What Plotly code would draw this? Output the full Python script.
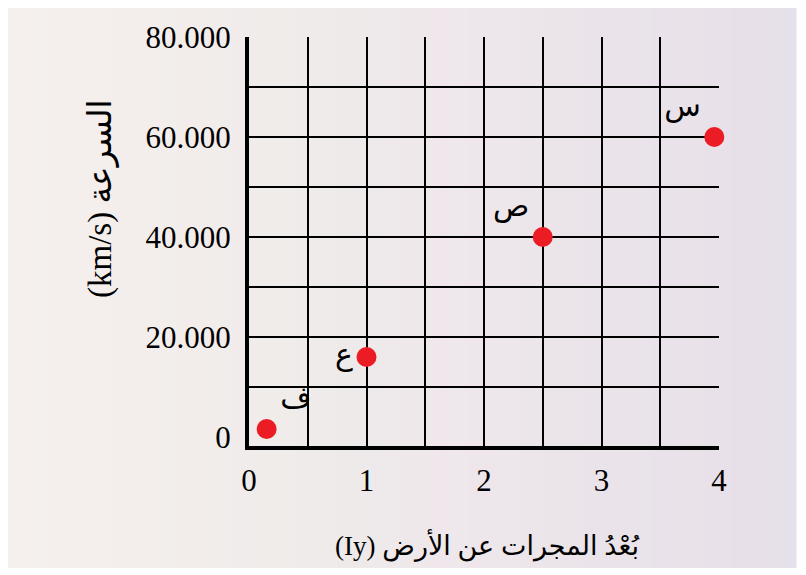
import plotly.graph_objects as go

# ---- data ----
X_DIST = [0.15, 1.0, 2.5, 3.96]          # distance (ly)
Y_SPEED = [1600, 16000, 40000, 60000]    # speed (km/s)
LABELS = ["ف", "ع", "ص", "س"]
LABEL_POS = ["top right", "middle left", "top left", "top left"]

X_TICKS = [0, 1, 2, 3, 4]
X_TICKTEXT = ["0", "1", "2", "3", "4"]
X_MARK_TICKS = [1, 2, 3, 4]
X_GRID = [0.5, 1, 1.5, 2, 2.5, 3, 3.5, 4]

Y_TICKS = [0, 20000, 40000, 60000, 80000]
Y_TICKTEXT = ["0", "20.000", "40.000", "60.000", "80.000"]
Y_MARK_TICKS = [20000, 40000, 60000, 80000]
Y_GRID = [10000, 20000, 30000, 40000, 50000, 60000, 70000, 80000]

X_TITLE = "(Iy) بُعْدُ المجرات عن الأرض"
Y_TITLE = "(km/s) السرعة"

FONT = "Liberation Serif, Times New Roman, DejaVu Serif, DejaVu Sans, serif"

# page offset of the figure (browser body margin)
OFF = 8
W, H = 806, 575
# target plot area in page pixels: x 249..719, y 37..446
ML = 249 - OFF
MT = 37 - OFF
PW = 719 - 249
PH = 446 - 37
MR = W - ML - PW
MB = H - MT - PH


def px_to_paper_x(px):
    return (px - OFF - ML) / PW


def px_to_paper_y(py):
    return (MT + PH - (py - OFF)) / PH


fig = go.Figure()

fig.add_trace(go.Scatter(
    x=X_DIST, y=Y_SPEED, mode="markers+text",
    text=LABELS, textposition=LABEL_POS,
    textfont=dict(family="DejaVu Sans, Noto Sans, serif", size=30, color="black"),
    marker=dict(size=20, color="#EC1C24", line=dict(width=0)),
    cliponaxis=False, showlegend=False, hoverinfo="skip",
))

# background gradient strips (page pixels)
bg_left, bg_right = 8, 796
bg_top, bg_bottom = 0, 568
stops = [
    (0.0, (245, 240, 237)),
    (0.25, (242, 237, 235)),
    (0.40, (238, 235, 234)),
    (0.55, (239, 231, 235)),
    (0.75, (234, 228, 234)),
    (0.95, (232, 224, 233)),
    (1.0, (229, 224, 234)),
]


def interp(t):
    for (t0, c0), (t1, c1) in zip(stops[:-1], stops[1:]):
        if t0 <= t <= t1:
            f = (t - t0) / (t1 - t0) if t1 > t0 else 0
            return tuple(round(a + (b - a) * f) for a, b in zip(c0, c1))
    return stops[-1][1]


N = 60
shapes = []
for i in range(N):
    xa = bg_left + (bg_right - bg_left) * i / N
    xb = bg_left + (bg_right - bg_left) * (i + 1) / N
    c = interp((i + 0.5) / N)
    shapes.append(dict(
        type="rect", xref="paper", yref="paper", layer="below",
        x0=px_to_paper_x(xa), x1=px_to_paper_x(xb + 0.6),
        y0=px_to_paper_y(bg_bottom), y1=px_to_paper_y(bg_top),
        fillcolor="rgb(%d,%d,%d)" % c, line=dict(width=0),
    ))

fig.update_layout(
    width=W, height=H,
    margin=dict(l=ML, r=MR, t=MT, b=MB, pad=0),
    paper_bgcolor="white",
    plot_bgcolor="rgba(0,0,0,0)",
    shapes=shapes,
    showlegend=False,
    font=dict(family=FONT, color="black"),
    xaxis=dict(
        range=[0, 4], tickvals=X_TICKS, ticktext=X_TICKTEXT,
        ticks="", ticklabelstandoff=4,
        tickfont=dict(family=FONT, size=31, color="black"),
        showgrid=False, zeroline=False,
        showline=True, linecolor="black", linewidth=4,
        minor=dict(tickvals=X_GRID, showgrid=True, gridcolor="black", gridwidth=2, ticks=""),
        fixedrange=True,
    ),
    yaxis=dict(
        range=[-1800, 80000], tickvals=Y_TICKS, ticktext=Y_TICKTEXT,
        ticks="", ticklabelstandoff=8,
        tickfont=dict(family=FONT, size=31, color="black"),
        showgrid=False, zeroline=False,
        showline=True, linecolor="black", linewidth=4,
        minor=dict(tickvals=Y_GRID, showgrid=True, gridcolor="black", gridwidth=2, ticks=""),
        fixedrange=True,
    ),
    xaxis2=dict(
        overlaying="x", anchor="y", side="bottom", range=[0, 4],
        tickvals=X_MARK_TICKS, ticks="outside", ticklen=10, tickwidth=2,
        tickcolor="black", showticklabels=False, showgrid=False,
        zeroline=False, showline=False,
    ),
    yaxis2=dict(
        overlaying="y", anchor="x", side="left", range=[-1800, 80000],
        tickvals=Y_MARK_TICKS, ticks="outside", ticklen=10, tickwidth=2,
        tickcolor="black", showticklabels=False, showgrid=False,
        zeroline=False, showline=False,
    ),
    annotations=[
        dict(text=X_TITLE, xref="paper", yref="paper",
             x=px_to_paper_x(487), y=px_to_paper_y(545),
             xanchor="center", yanchor="middle", showarrow=False,
             font=dict(family=FONT, size=27, color="black")),
        dict(text=Y_TITLE, xref="paper", yref="paper",
             x=px_to_paper_x(100), y=px_to_paper_y(199),
             xanchor="center", yanchor="middle", showarrow=False, textangle=-90,
             font=dict(family=FONT, size=33, color="black")),
    ],
)

fig.write_html("out.html")
